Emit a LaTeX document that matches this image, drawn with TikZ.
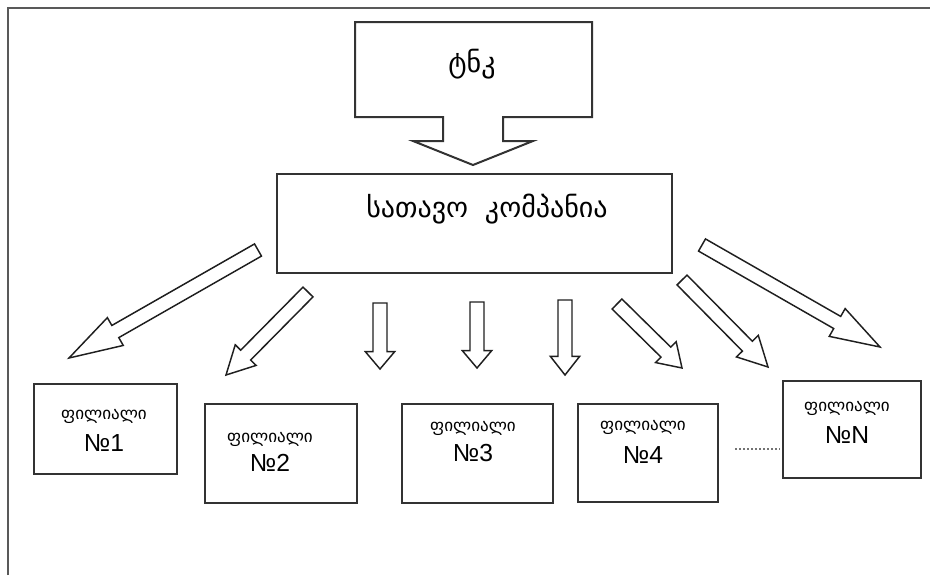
\documentclass[tikz,border=0pt]{standalone}
\usepackage{fontspec}
\setmainfont{Liberation Sans}
\newfontfamily\geo{DejaVu Sans}
\usetikzlibrary{calc}

% hollow block arrow: tail, tip, shaft half width, head half width, head length
\newcommand\hollowarrow[5]{%
  \coordinate (hA) at (#1);
  \coordinate (hB) at (#2);
  \coordinate (hC) at ($(hB)!#5!(hA)$);
  \draw[blockarrow]
    ($(hA)!#3!90:(hB)$) -- ($(hC)!#3!-90:(hA)$) -- ($(hC)!#4!-90:(hA)$)
    -- (hB) -- ($(hC)!#4!90:(hA)$) -- ($(hC)!#3!90:(hA)$)
    -- ($(hA)!#3!-90:(hB)$) -- cycle;
}

\begin{document}
\begin{tikzpicture}[x=0.75pt,y=-0.75pt,
  frameline/.style={draw=black!65, line width=1.9pt},
  box/.style={draw=black!80, line width=1.5pt, rectangle, inner sep=0pt, fill=white},
  blockarrow/.style={draw=black!88, line width=1.1pt, line join=miter, fill=white},
  geolbl/.style={font=\geo\fontsize{12.8}{15}\selectfont, inner sep=0pt},
  numlbl/.style={font=\fontsize{18.5}{22}\selectfont, inner sep=0pt},
  title/.style={font=\geo\fontsize{21}{25}\selectfont, inner sep=0pt}]

\useasboundingbox (0,0) rectangle (930,575);

% outer frame (top and left edges)
\draw[frameline] (8,575) -- (8,8) -- (930,8);

% top callout box with its downward arrow
\draw[box, line join=miter]
  (355,22) -- (592,22) -- (592,117) -- (503,117) -- (503,141) -- (533,141)
  -- (473,165) -- (413,141) -- (443,141) -- (443,117) -- (355,117) -- cycle;
\node[title] (tnk) at (472,64) {ტნკ};

% head company
\node[box, minimum width=296pt, minimum height=74pt] (hq) at (474.5,223.5) {};
\node[title] (hqtext) at (487,209) {სათავო\hspace{0.6em}კომპანია};

% branch boxes
\node[box, minimum width=107pt, minimum height=67.5pt] (b1) at (105.5,429) {};
\node[box, minimum width=114pt, minimum height=74pt]   (b2) at (281,453.5) {};
\node[box, minimum width=113pt, minimum height=74pt]   (b3) at (477.5,453.5) {};
\node[box, minimum width=105pt, minimum height=73.5pt] (b4) at (648,453) {};
\node[box, minimum width=103.5pt, minimum height=73pt] (bN) at (852,429.5) {};

\node[geolbl] (g1) at (104,416) {ფილიალი};
\node[numlbl] (n1) at (104,443) {№1};
\node[geolbl] (g2) at (270,439) {ფილიალი};
\node[numlbl] (n2) at (270,463) {№2};
\node[geolbl] (g3) at (473,428) {ფილიალი};
\node[numlbl] (n3) at (473,453) {№3};
\node[geolbl] (g4) at (643,427) {ფილიალი};
\node[numlbl] (n4) at (643,455) {№4};
\node[geolbl] (gN) at (847,408) {ფილიალი};
\node[numlbl] (nN) at (847,435) {№N};

% dotted gap between branch 4 and branch N
\coordinate (dotL) at (735,449);
\coordinate (dotR) at (780,449);
\draw[black!55, line width=1pt, dash pattern=on 1.2pt off 1.8pt] (dotL) -- (dotR);

% arrows from the head company towards the branches
\coordinate (a1s) at (258,250); \coordinate (a1e) at (69,358);
\coordinate (a2s) at (308,292); \coordinate (a2e) at (226,375);
\coordinate (a3s) at (380,303); \coordinate (a3e) at (380,369);
\coordinate (a4s) at (477,302); \coordinate (a4e) at (477,368);
\coordinate (a5s) at (565,300); \coordinate (a5e) at (565,375);
\coordinate (a6s) at (617,304); \coordinate (a6e) at (682,368);
\coordinate (a7s) at (682,280); \coordinate (a7e) at (768,367);
\coordinate (a8s) at (702,245); \coordinate (a8e) at (880,347);

\hollowarrow{a1s}{a1e}{5.25pt}{12pt}{40pt}
\hollowarrow{a2s}{a2e}{5.25pt}{11pt}{21pt}
\hollowarrow{a3s}{a3e}{5.25pt}{11pt}{13pt}
\hollowarrow{a4s}{a4e}{5.25pt}{11pt}{13pt}
\hollowarrow{a5s}{a5e}{5.25pt}{11pt}{14pt}
\hollowarrow{a6s}{a6e}{5.25pt}{11pt}{17pt}
\hollowarrow{a7s}{a7e}{5.25pt}{11.5pt}{22pt}
\hollowarrow{a8s}{a8e}{5.25pt}{12pt}{37pt}

\end{tikzpicture}
\end{document}
